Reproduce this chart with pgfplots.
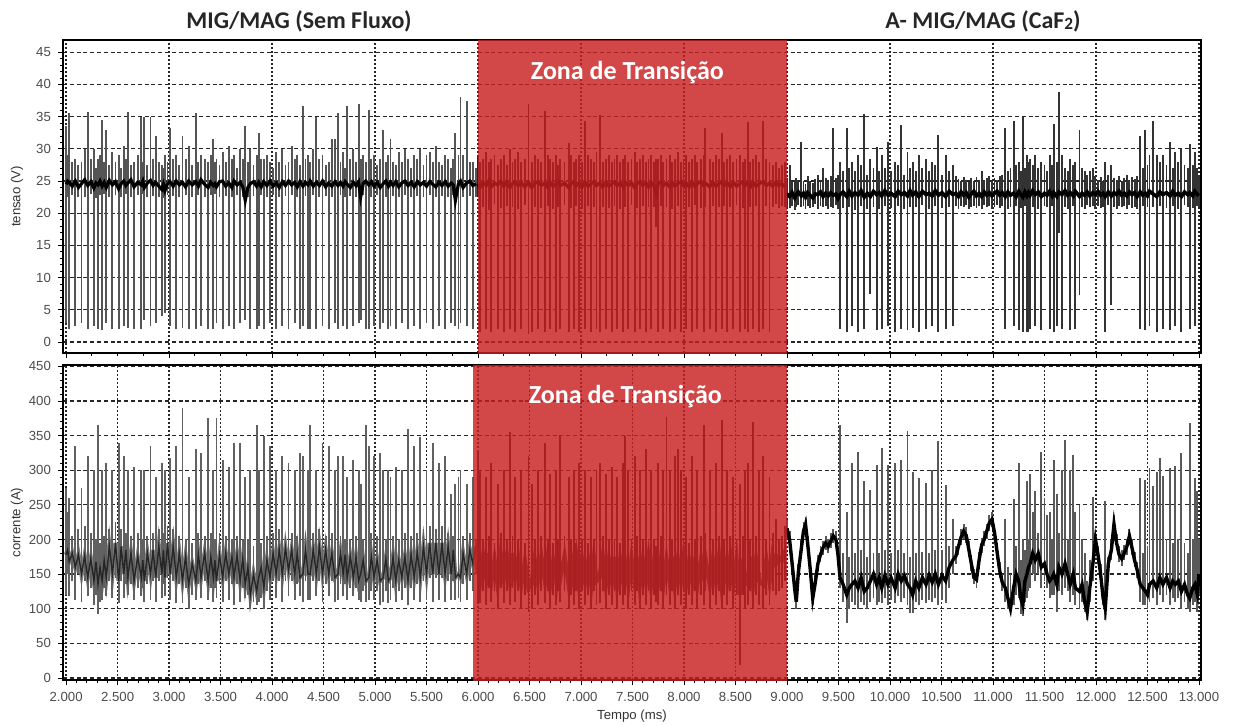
\documentclass[border=0pt]{standalone}
\usepackage{fontspec}
\setmainfont{Liberation Sans}
\newfontfamily\calfont{Carlito}
\usepackage{graphicx}
\usepackage{pgfplots}
\usepackage{pgfplotstable}
\pgfplotsset{compat=1.18}
\definecolor{zona}{RGB}{200,30,32}
\definecolor{sig}{RGB}{85,85,85}

\pgfplotstableread{
t vlo vhi vb ilo ihi ib
2.000 3.0 33.5 24.5 120 275 178
2.015 22.5 29.0 25.0 150 240 185
2.030 2.0 35.5 24.8 118 260 168
2.060 22.8 28.0 24.2 140 205 180
2.090 2.5 28.5 25.0 112 335 160
2.120 22.6 27.5 24.0 150 215 178
2.150 3.0 28.0 24.6 110 275 150
2.180 22.5 30.0 25.2 140 220 176
2.210 2.0 35.7 24.3 118 320 145
2.240 23.0 28.5 24.9 130 210 172
2.270 2.5 30.0 23.9 105 300 140
2.290 22.4 27.0 24.7 120 200 168
2.310 2.0 28.5 24.4 92 365 135
2.330 22.8 29.0 25.0 110 195 160
2.350 1.8 34.5 24.2 112 300 140
2.370 23.0 28.0 24.8 130 205 170
2.390 3.0 33.0 24.0 118 310 145
2.420 22.5 27.5 25.1 140 215 190
2.450 2.0 29.5 24.4 115 300 150
2.480 22.8 28.0 24.9 145 225 195
2.510 2.0 29.0 23.8 108 340 140
2.535 22.6 27.0 24.6 140 215 190
2.560 2.5 30.5 25.0 115 320 150
2.580 23.0 28.5 24.3 135 210 185
2.600 2.2 35.7 24.7 120 300 145
2.630 22.5 27.5 25.2 135 205 180
2.660 2.0 28.0 24.1 112 305 140
2.695 22.8 29.0 24.8 130 210 175
2.730 2.0 35.0 24.4 118 300 145
2.745 23.0 28.0 25.0 130 200 170
2.760 3.5 35.0 24.0 110 300 140
2.790 22.5 27.5 24.7 135 205 180
2.820 2.5 35.0 25.1 112 335 150
2.845 22.7 28.5 24.3 140 210 185
2.870 3.0 32.0 24.8 110 290 145
2.900 22.6 28.0 24.2 140 215 190
2.930 4.0 27.5 23.7 115 310 150
2.945 22.4 27.0 24.5 135 210 185
2.960 4.5 29.0 23.5 118 300 145
2.985 22.8 28.0 24.6 145 220 195
3.010 2.5 33.3 24.9 112 318 150
3.040 22.7 28.5 24.2 140 215 190
3.070 2.0 29.0 25.0 108 335 145
3.100 22.5 27.5 24.4 135 205 180
3.130 2.2 32.0 24.8 108 390 140
3.160 22.8 28.5 24.1 130 200 175
3.190 2.0 30.5 25.0 100 290 135
3.225 22.6 27.5 24.4 120 195 165
3.260 2.0 35.6 24.9 112 330 140
3.285 22.8 28.0 24.2 135 210 178
3.310 2.5 29.0 25.2 115 325 145
3.345 22.5 28.5 24.5 140 205 180
3.380 2.0 28.0 24.0 112 375 140
3.405 22.9 29.0 24.8 130 210 175
3.430 2.0 31.5 24.3 110 300 145
3.445 23.0 28.0 24.6 130 200 170
3.460 3.0 28.5 24.1 115 375 140
3.490 22.6 27.5 24.9 135 210 178
3.520 2.0 29.5 25.0 110 315 145
3.550 22.7 28.0 24.2 140 205 180
3.580 2.5 30.5 24.7 112 305 150
3.610 22.5 28.5 24.0 135 200 175
3.630 2.0 29.0 25.0 105 340 145
3.660 22.8 27.0 24.4 135 205 178
3.690 3.0 30.0 24.8 110 340 140
3.715 22.6 28.5 24.1 130 200 172
3.740 3.5 33.5 22.0 115 290 135
3.765 22.5 28.0 24.0 120 200 160
3.790 2.0 30.0 24.6 100 300 120
3.820 22.7 27.5 24.9 110 190 150
3.850 2.0 29.0 24.2 105 365 125
3.870 2.5 32.5 24.8 110 300 145
3.895 22.8 28.5 24.1 115 195 160
3.920 2.0 28.5 24.9 100 350 130
3.950 22.6 29.0 24.3 125 205 170
3.980 3.0 28.0 25.0 112 335 145
4.010 22.8 27.0 24.2 140 210 180
4.040 2.0 29.5 24.7 115 300 150
4.070 22.5 28.0 24.0 140 215 185
4.100 2.5 30.0 24.9 110 320 150
4.130 22.7 27.5 24.3 140 205 188
4.160 2.0 28.0 25.0 118 310 155
4.190 22.8 30.5 24.4 140 210 185
4.220 3.0 28.5 24.8 112 300 150
4.245 22.6 29.0 24.1 135 205 180
4.270 2.0 27.5 24.9 118 325 145
4.300 2.5 36.7 24.2 110 320 150
4.325 22.7 28.5 24.8 140 210 185
4.350 2.0 29.0 24.4 112 300 150
4.370 2.0 28.0 25.0 112 365 150
4.400 22.8 30.0 24.2 140 210 185
4.430 2.0 35.0 24.8 118 300 150
4.460 22.6 28.5 24.3 140 215 190
4.490 2.5 29.0 25.0 110 340 150
4.520 22.7 27.5 24.1 135 205 185
4.550 2.0 28.0 24.7 118 335 150
4.580 22.5 31.5 24.2 140 210 180
4.610 3.0 31.5 24.9 110 300 145
4.640 2.0 35.5 24.3 112 320 150
4.665 22.8 28.0 24.8 135 205 180
4.690 2.5 29.5 24.2 118 320 150
4.710 22.6 27.0 24.9 135 200 178
4.730 2.0 36.7 24.5 112 290 145
4.760 22.7 28.5 24.0 130 200 175
4.790 2.5 30.0 24.8 118 315 145
4.815 22.5 28.0 24.3 130 205 175
4.840 3.0 37.0 24.9 112 300 140
4.860 3.5 28.5 22.5 110 280 150
4.885 22.8 29.0 24.6 125 200 170
4.910 2.0 28.0 25.0 110 365 140
4.940 2.0 36.0 24.4 112 335 145
4.965 22.6 28.5 24.9 125 210 175
4.990 2.5 29.0 24.2 112 320 145
5.020 22.8 27.5 24.8 125 205 170
5.050 2.0 28.5 24.0 105 325 140
5.080 3.0 33.0 24.6 110 300 145
5.105 22.5 28.0 25.0 125 200 172
5.130 2.0 29.0 24.2 108 300 140
5.150 2.5 31.5 24.8 112 290 145
5.175 22.7 28.0 24.3 130 205 175
5.200 2.0 27.5 24.9 110 305 140
5.230 22.6 29.5 24.1 125 200 170
5.260 3.0 28.0 24.7 112 300 145
5.290 22.8 30.0 25.0 130 210 175
5.320 2.0 28.5 24.3 105 360 140
5.350 22.5 27.0 24.8 130 205 178
5.380 2.5 29.0 24.1 112 335 145
5.410 22.7 28.5 24.9 135 210 182
5.440 2.0 30.0 24.4 110 348 145
5.470 22.6 27.5 24.8 140 215 190
5.500 3.0 29.0 24.2 112 300 150
5.530 22.8 29.5 24.9 145 220 195
5.560 2.0 28.0 24.5 110 340 150
5.590 22.5 30.5 24.1 145 215 195
5.620 2.5 28.0 24.8 112 310 150
5.650 22.7 27.5 24.3 145 220 195
5.680 2.0 29.0 24.9 110 320 150
5.710 22.6 28.5 24.2 140 210 190
5.740 3.0 27.0 24.7 112 265 150
5.760 22.8 28.5 24.4 140 205 185
5.780 2.5 32.5 22.0 112 280 145
5.810 2.0 29.0 24.6 115 290 150
5.830 3.0 38.0 25.0 110 300 145
5.855 22.6 29.0 24.0 135 205 180
5.890 2.5 37.5 24.7 112 280 150
5.920 22.7 28.0 25.0 140 210 185
5.950 2.0 28.0 24.3 125 290 165
5.980 22.5 27.0 24.6 150 200 190
}\tA

\pgfplotstableread{
t vlo vhi vb ilo ihi ib
6.000 22.5 29.0 24.5 110 327 160
6.020 1.5 28.0 24.0 108 300 140
6.050 21.0 28.5 24.8 125 200 175
6.080 2.0 29.5 24.3 105 290 145
6.105 20.5 28.0 25.0 130 205 180
6.130 1.5 28.5 24.1 110 310 140
6.160 21.5 29.0 24.7 125 195 170
6.190 2.0 27.5 24.4 100 280 135
6.220 20.8 28.5 25.0 130 210 178
6.250 1.5 29.0 24.2 108 300 145
6.280 21.2 27.5 24.8 125 200 175
6.310 2.0 30.0 24.0 105 355 140
6.335 21.0 28.0 24.6 130 205 180
6.360 1.5 28.5 24.9 110 290 145
6.390 20.6 29.5 24.3 125 200 172
6.420 2.0 28.0 24.7 100 300 135
6.455 21.3 28.5 24.1 120 195 168
6.490 1.2 37.0 24.8 95 320 130
6.520 1.5 28.0 24.0 100 280 135
6.550 21.0 29.0 24.6 120 200 170
6.580 2.0 28.5 24.9 105 300 140
6.615 20.8 28.0 24.3 125 205 175
6.650 1.5 35.8 24.7 108 340 140
6.675 21.2 29.0 24.1 125 200 172
6.700 2.0 28.5 24.8 100 295 135
6.730 20.6 28.0 24.2 120 195 168
6.760 1.5 29.0 24.6 105 300 140
6.780 21.0 27.5 24.9 125 200 175
6.800 2.0 28.5 24.3 110 351 145
6.840 21.3 28.0 24.7 125 205 175
6.880 1.5 30.9 24.0 100 290 135
6.905 20.8 29.0 24.6 120 200 170
6.930 2.0 28.0 24.9 105 300 140
6.955 21.1 28.5 24.3 125 195 172
6.980 1.5 29.0 24.7 100 310 135
7.010 20.7 28.0 24.1 125 200 170
7.040 2.0 34.4 24.8 105 300 140
7.070 21.2 29.0 24.2 120 195 168
7.100 1.5 28.5 24.6 100 290 135
7.125 20.9 28.0 24.9 125 200 172
7.150 2.0 29.5 24.3 105 300 140
7.180 1.5 35.2 24.7 108 310 145
7.210 21.0 28.0 24.1 125 205 175
7.240 2.0 28.5 24.8 100 295 135
7.270 20.8 29.0 24.2 120 200 170
7.300 1.5 28.0 24.6 105 305 140
7.325 21.2 28.5 24.9 125 200 175
7.350 2.0 29.0 24.3 100 290 135
7.380 20.7 28.0 24.7 120 195 170
7.410 1.5 28.5 24.1 105 310 140
7.430 21.0 29.0 24.8 120 349 165
7.460 2.0 28.0 24.3 100 300 135
7.490 21.3 28.5 24.7 125 200 172
7.520 1.5 29.5 24.0 105 320 140
7.545 20.8 28.0 24.6 125 205 175
7.570 2.0 28.5 24.9 100 300 135
7.600 21.1 29.0 24.3 120 200 170
7.630 1.5 28.0 24.7 105 330 140
7.655 20.9 28.5 24.1 125 195 172
7.680 2.0 29.0 24.8 100 300 135
7.710 21.0 28.0 24.2 120 200 168
7.730 17.8 28.5 23.0 110 190 150
7.750 1.5 28.5 24.6 105 310 140
7.780 21.2 29.0 24.9 125 205 175
7.800 2.0 28.0 24.3 100 300 135
7.830 21.0 28.5 24.7 120 377 170
7.860 1.5 29.0 24.1 105 300 140
7.885 20.7 28.0 24.8 125 200 175
7.910 2.0 28.5 24.2 100 320 135
7.940 21.2 29.5 24.6 120 330 170
7.970 1.5 28.0 24.9 105 300 140
7.995 20.9 28.5 24.3 125 200 172
8.020 2.0 29.0 24.7 100 290 135
8.050 21.0 28.0 24.1 120 195 168
8.080 1.5 28.5 24.8 105 320 140
8.105 21.3 29.0 24.2 125 200 175
8.130 2.0 28.0 24.6 100 300 135
8.165 20.8 28.5 24.9 120 205 170
8.190 1.5 29.0 24.3 105 365 140
8.205 21.0 33.2 24.7 125 210 175
8.250 2.0 28.5 24.1 100 300 135
8.280 21.2 28.0 24.8 120 200 170
8.310 1.5 29.0 24.2 105 310 140
8.340 20.9 28.5 24.6 125 205 175
8.365 2.0 32.4 24.9 100 372 135
8.390 21.1 28.0 24.3 120 200 168
8.420 1.5 28.5 24.7 105 300 140
8.450 21.0 29.0 24.1 125 205 175
8.480 2.0 28.0 24.8 100 290 135
8.510 21.3 28.5 24.2 120 200 170
8.540 1.5 29.0 24.6 18 280 120
8.570 20.8 28.0 24.9 120 205 172
8.590 2.0 28.5 24.3 100 300 135
8.620 1.5 34.2 24.7 105 310 140
8.645 21.0 28.0 24.1 125 200 175
8.670 2.0 28.5 24.8 100 370 135
8.700 21.2 29.0 24.2 120 205 170
8.730 1.5 28.0 24.6 105 300 140
8.770 2.0 34.4 24.9 100 320 135
8.800 21.1 28.5 24.3 120 200 170
8.830 1.5 28.0 24.7 105 290 140
8.860 21.0 27.5 24.2 125 210 178
8.890 21.5 28.0 24.8 120 230 165
8.920 20.8 27.0 24.3 125 200 175
8.950 21.2 27.5 24.6 130 205 170
8.980 21.0 28.0 24.1 140 220 185
}\tB

\pgfplotstableread{
t vlo vhi vb ilo ihi ib
9.000 21.0 25.5 23.0 200 228 216
9.025 20.8 27.5 22.6 188 212 200
9.050 21.2 25.0 23.2 150 175 165
9.075 20.5 24.8 22.4 118 140 128
9.090 21.0 25.5 22.9 100 120 110
9.110 21.3 25.2 23.3 140 165 152
9.140 20.9 31.0 22.7 175 200 188
9.160 21.1 25.0 23.1 200 225 212
9.180 20.6 24.6 22.5 210 232 222
9.200 21.2 25.8 23.2 185 205 195
9.225 20.8 25.0 22.8 148 170 158
9.250 21.0 24.7 22.4 105 125 115
9.275 21.4 25.3 23.0 128 150 138
9.300 20.7 26.0 22.9 155 178 165
9.325 21.1 25.2 23.3 168 190 178
9.350 20.9 27.0 22.6 178 198 188
9.375 21.2 25.5 23.1 185 205 195
9.400 20.6 25.0 22.7 180 200 190
9.425 21.0 25.8 23.2 188 210 198
9.450 20.8 33.3 22.8 195 215 205
9.475 21.3 25.5 23.0 190 212 200
9.495 20.7 26.0 22.3 165 190 178
9.515 2.0 28.0 22.9 130 365 145
9.545 20.8 26.5 23.3 110 180 135
9.580 1.5 33.2 22.6 79 240 120
9.605 21.0 27.0 23.4 100 175 130
9.630 2.5 28.0 22.7 110 310 135
9.660 20.5 26.5 23.2 105 180 140
9.690 1.5 29.0 22.8 100 327 130
9.720 21.2 27.5 23.5 110 185 145
9.750 2.0 35.4 22.5 105 284 125
9.780 20.7 26.0 23.1 99 175 130
9.810 7.5 28.5 22.6 110 272 140
9.840 21.0 27.0 23.4 115 180 150
9.870 1.8 30.3 22.9 105 308 135
9.895 20.6 26.5 23.2 110 180 145
9.920 2.0 29.0 22.7 108 332 130
9.950 21.1 27.0 23.5 115 185 148
9.980 2.5 31.0 22.8 105 308 135
10.010 20.8 26.5 23.1 112 180 145
10.050 1.5 28.0 22.6 108 310 130
10.080 21.2 27.5 23.4 118 185 150
10.110 2.0 33.7 22.9 110 315 140
10.140 20.7 26.0 23.2 115 180 148
10.170 1.8 29.5 22.7 105 356 135
10.195 21.0 27.0 23.5 94 175 130
10.220 2.2 28.0 22.8 94 298 120
10.250 20.9 26.5 23.3 110 180 140
10.280 1.5 29.0 22.6 105 289 130
10.315 21.3 27.0 23.4 113 182 145
10.350 2.0 28.5 22.9 108 282 135
10.380 20.6 26.5 23.1 113 180 148
10.410 2.5 28.0 22.7 110 300 138
10.440 21.1 27.5 23.5 115 185 150
10.470 1.5 32.2 22.8 105 342 135
10.505 20.8 26.0 23.2 112 185 148
10.540 2.0 29.0 22.6 108 279 140
10.575 21.0 26.5 23.4 130 190 160
10.610 2.5 27.5 22.9 150 230 170
10.640 21.2 25.8 23.1 165 190 176
10.665 20.7 25.3 22.6 178 200 190
10.690 21.1 25.0 23.3 192 215 203
10.715 20.9 25.6 22.8 200 222 212
10.740 21.3 25.2 23.2 195 218 206
10.765 20.6 24.8 22.5 175 198 186
10.790 21.0 25.5 23.0 155 178 165
10.815 21.2 25.0 23.4 135 158 145
10.840 20.8 25.7 22.7 130 152 142
10.865 21.1 25.2 23.1 158 182 170
10.890 20.7 26.5 22.6 180 202 192
10.915 21.3 25.0 23.3 190 212 200
10.940 20.9 25.5 22.8 200 222 212
10.965 21.2 25.8 23.2 212 235 224
10.990 20.6 25.0 22.7 218 240 229
11.015 21.0 25.5 23.1 200 222 210
11.040 21.3 25.2 23.4 172 195 182
11.065 20.8 25.8 22.8 145 168 155
11.090 21.1 26.0 23.2 125 150 138
11.120 2.0 33.3 22.6 110 230 130
11.145 20.7 26.5 23.3 100 160 115
11.170 21.0 27.0 22.8 95 150 100
11.200 2.5 34.3 23.1 105 258 130
11.225 21.2 27.5 22.6 120 190 150
11.250 1.8 28.0 23.4 115 310 140
11.270 20.8 26.5 22.9 92 170 115
11.290 1.5 34.9 22.5 89 200 105
11.310 21.1 27.0 23.3 110 185 140
11.330 1.5 29.0 22.7 115 284 150
11.345 1.5 28.0 23.2 125 200 160
11.360 2.0 28.5 22.8 130 294 165
11.385 21.0 27.5 23.5 150 240 180
11.410 2.5 29.0 22.9 140 270 170
11.440 20.7 27.0 23.3 150 210 180
11.470 1.8 28.0 22.6 130 327 160
11.500 21.2 27.5 23.1 140 260 165
11.525 20.9 26.5 22.8 130 236 150
11.550 2.0 29.0 23.4 115 240 140
11.575 21.1 27.5 22.7 120 200 145
11.590 1.5 33.9 23.2 120 315 150
11.620 2.5 28.0 22.6 95 265 135
11.640 17.0 38.8 23.3 125 210 160
11.670 2.0 29.0 22.9 120 300 150
11.700 21.0 27.0 23.5 130 344 165
11.725 20.7 26.5 22.8 125 200 150
11.750 1.8 28.5 23.2 110 300 135
11.780 21.2 27.5 22.7 120 322 150
11.800 2.0 28.0 23.4 105 240 130
11.840 7.3 33.0 22.6 100 250 125
11.865 21.0 27.0 23.1 110 200 135
11.890 20.6 26.5 22.8 95 180 110
11.915 21.3 26.0 23.3 84 140 95
11.940 20.9 26.5 22.7 110 170 130
11.970 21.1 27.0 23.2 140 262 165
11.995 20.7 25.8 22.9 185 210 200
12.020 21.2 25.2 23.4 165 190 178
12.045 20.8 25.6 22.8 140 165 150
12.070 21.0 25.0 23.1 105 130 115
12.090 1.5 28.0 22.6 84 255 100
12.120 21.3 26.0 23.3 150 175 165
12.150 5.8 27.5 22.7 170 200 185
12.175 21.0 25.5 23.2 210 235 222
12.200 20.7 25.2 22.9 185 208 195
12.225 21.2 25.8 23.4 168 190 178
12.250 20.9 25.0 22.8 162 185 172
12.275 21.1 25.5 23.1 170 192 180
12.300 20.6 26.0 22.7 178 200 190
12.325 21.3 25.2 23.3 195 215 205
12.350 20.8 25.6 22.9 178 200 188
12.375 21.0 25.3 23.2 160 182 170
12.400 20.7 25.8 22.6 145 168 156
12.430 2.0 32.0 23.3 110 289 135
12.455 21.2 27.0 22.8 105 180 130
12.480 1.8 33.0 23.1 105 286 125
12.500 20.9 27.5 22.7 100 190 120
12.520 2.5 29.0 23.4 110 303 135
12.555 21.0 34.3 23.0 115 277 140
12.590 1.5 29.0 22.6 105 298 130
12.620 21.2 28.0 23.3 120 318 145
12.650 2.0 29.0 22.9 110 291 135
12.685 20.8 27.5 23.2 120 200 145
12.720 1.8 31.0 22.7 105 303 130
12.745 21.1 27.0 23.4 115 195 140
12.770 2.5 29.5 22.8 110 306 135
12.800 20.7 28.0 23.1 115 200 140
12.830 1.5 30.0 22.6 100 325 125
12.860 21.3 27.5 23.3 110 195 135
12.890 21.0 27.0 22.9 100 180 120
12.910 2.0 30.8 23.2 95 368 115
12.940 20.8 27.5 22.7 105 200 130
12.960 2.5 29.5 23.4 110 289 135
12.985 21.1 27.0 22.9 95 270 120
13.000 21.0 26.0 23.1 120 200 150
}\tC

\pgfplotsset{
  panel/.style={scale only axis, width=569pt, xmin=1.97, xmax=13.02, anchor=north west,
    axis line style={black,line width=0.6pt},
    tick style={black,line width=0.4pt},
    tick align=outside, major tick length=2.5pt, minor tick length=1.4pt,
    xtick pos=bottom, ytick pos=left,
    grid=major,
    x grid style={black!85,line width=0.6pt,dash pattern=on 0.9pt off 1.1pt},
    y grid style={black!85,line width=0.6pt,dash pattern=on 2pt off 1.4pt},
    tick label style={font=\fontsize{6.6}{7.5}\selectfont, text=black!70},
    label style={font=\fontsize{6.6}{7.5}\selectfont, text=black!80},
    /pgf/number format/assume math mode=true,
    ylabel style={at={(axis description cs:-0.0405,0.5)},anchor=center},
  },
  vq/.style={quiver={u=0,v=\thisrow{vhi}-\thisrow{vlo}}, line width=0.95pt},
  iq/.style={quiver={u=0,v=\thisrow{ihi}-\thisrow{ilo}}, line width=0.95pt},
}

\begin{document}
\begin{tikzpicture}
\path[use as bounding box] (0,0) rectangle (616.5pt,-362.5pt);

\begin{axis}[panel, at={(31.5pt,-20pt)}, height=156.5pt,
  ymin=-1.7, ymax=46.9, ytick={0,5,...,45},
  xtick={2,3,...,13}, xticklabels={}, minor x tick num=3, minor y tick num=4,
  ylabel={tensao (V)}]
\addplot[vq, sig] table[x=t,y=vlo]{\tA};
\addplot[black, line width=1.6pt] table[x=t,y=vb]{\tA};
\addplot[vq, black!85] table[x=t,y=vlo]{\tB};
\addplot[black, line width=1.6pt] table[x=t,y=vb]{\tB};
\addplot[vq, black!80] table[x=t,y=vlo]{\tC};
\addplot[black, line width=1.8pt] table[x=t,y=vb]{\tC};
\fill[zona, fill opacity=0.82] (axis cs:6,-5) rectangle (axis cs:9,50);
\node[font=\calfont\bfseries\fontsize{13}{15}\selectfont, text=white] at (axis cs:7.45,41.8) {Zona de Transição};
\end{axis}

\begin{axis}[panel, at={(31.5pt,-182.5pt)}, height=157.5pt,
  ymin=-3, ymax=452, ytick={0,50,...,450},
  xtick={2,2.5,...,13},
  xticklabels={2.000,2.500,3.000,3.500,4.000,4.500,5.000,5.500,6.000,6.500,7.000,7.500,8.000,8.500,9.000,9.500,10.000,10.500,11.000,11.500,12.000,12.500,13.000},
  minor x tick num=4, minor y tick num=4,
  ylabel={corrente (A)}, xlabel={Tempo (ms)},
  xlabel style={at={(axis description cs:0.5,0)}, yshift=-18pt, anchor=center}]
\addplot[black!50, line width=2.2pt] table[x=t,y=ib]{\tA};
\addplot[iq, black!62] table[x=t,y=ilo]{\tA};
\addplot[black!85, line width=0.7pt] table[x=t,y=ib]{\tA};
\addplot[black!70, line width=2.2pt] table[x=t,y=ib]{\tB};
\addplot[iq, black!85] table[x=t,y=ilo]{\tB};
\addplot[iq, black!65] table[x=t,y=ilo]{\tC};
\addplot[black, line width=1.7pt] table[x=t,y=ib]{\tC};
\fill[zona, fill opacity=0.82] (axis cs:5.95,-20) rectangle (axis cs:9,470);
\node[font=\calfont\bfseries\fontsize{13}{15}\selectfont, text=white] at (axis cs:7.43,405.8) {Zona de Transição};
\end{axis}

\node[font=\calfont\bfseries\fontsize{12}{14}\selectfont, text=black!85] at (149.5pt,-10.5pt) {MIG/MAG (Sem Fluxo)};
\node[font=\calfont\bfseries\fontsize{12}{14}\selectfont, text=black!85] at (491.5pt,-10.5pt) {A- MIG/MAG (CaF\raisebox{-0.1ex}{\scalebox{0.72}{2}})};
\end{tikzpicture}
\end{document}
